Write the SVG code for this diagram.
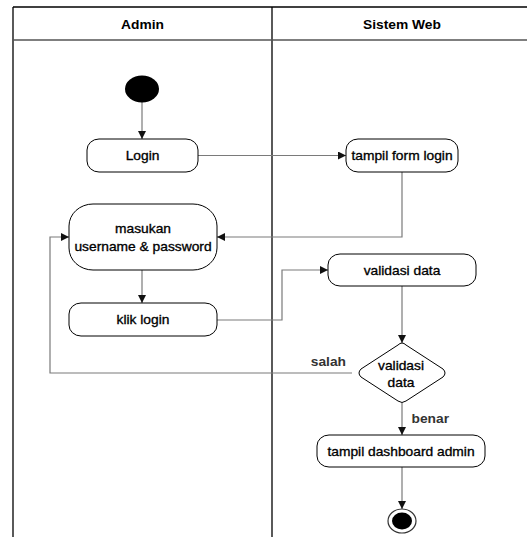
<svg xmlns="http://www.w3.org/2000/svg" width="527" height="537" viewBox="0 0 527 537">
<style>
.lane{stroke:#000;stroke-width:1.3;fill:none}
.node{fill:#fff;stroke:#000;stroke-width:1}
.conn{fill:none;stroke:#7a7a7a;stroke-width:1.2}
.t{font-family:"Liberation Sans",Arial,sans-serif;font-size:12px;fill:#000;stroke:#000;stroke-width:0.3;text-anchor:middle}
.h{font-family:"Liberation Sans",Arial,sans-serif;font-size:12px;font-weight:bold;fill:#000;text-anchor:middle}
.lbl{font-family:"Liberation Sans",Arial,sans-serif;font-size:12px;font-weight:bold;fill:#333}
</style>
<defs>
<marker id="arr" markerUnits="userSpaceOnUse" markerWidth="9" markerHeight="8" refX="8" refY="4" orient="auto">
<path d="M0,0 L8,4 L0,8 Z" fill="#111"/>
</marker>
</defs>
<rect width="527" height="537" fill="#fff"/>
<g id="lanes">
<line class="lane" x1="13" y1="7" x2="527" y2="7"/>
<line class="lane" x1="13" y1="7" x2="13" y2="537"/>
<line class="lane" x1="272" y1="7" x2="272" y2="537"/>
<line x1="13" y1="40" x2="527" y2="40" stroke="#555" stroke-width="1.3"/>
<text class="h" transform="translate(142.5 29) scale(1.15 1)">Admin</text>
<text class="h" transform="translate(402 29) scale(1.15 1)">Sistem Web</text>
</g>
<g id="connectors">
<path class="conn" d="M142,102 L142,139" marker-end="url(#arr)"/>
<path class="conn" d="M198,155.5 L346,155.5" marker-end="url(#arr)"/>
<path class="conn" d="M402,172 L402,237 L217,237" marker-end="url(#arr)"/>
<path class="conn" d="M142,270 L142,303" marker-end="url(#arr)"/>
<path class="conn" d="M217,320 L282,320 L282,270 L328,270" marker-end="url(#arr)"/>
<path class="conn" d="M402,286 L402,343" marker-end="url(#arr)"/>
<path class="conn" d="M352,373 L50,373 L50,237 L69,237" marker-end="url(#arr)"/>
<path class="conn" d="M402,403 L402,435" marker-end="url(#arr)"/>
<path class="conn" d="M402,467 L402,509" marker-end="url(#arr)"/>
<text class="lbl" text-anchor="end" transform="translate(346 366) scale(1.15 1)">salah</text>
<text class="lbl" transform="translate(411.5 423) scale(1.15 1)">benar</text>
</g>
<g id="start">
<ellipse cx="142" cy="89" rx="17" ry="13.5" fill="#000"/>
</g>
<g id="login">
<rect class="node" x="87" y="139" width="111" height="33" rx="12" ry="11"/>
<text class="t" transform="translate(142.5 159.5) scale(1.15 1)">Login</text>
</g>
<g id="tampil-form-login">
<rect class="node" x="346" y="139" width="112" height="33" rx="12" ry="11"/>
<text class="t" transform="translate(402 159.5) scale(1.15 1)">tampil form login</text>
</g>
<g id="masukan">
<rect class="node" x="69" y="204" width="148" height="66" rx="24" ry="22"/>
<text class="t" transform="translate(143 232.5) scale(1.15 1)">masukan</text>
<text class="t" transform="translate(143 250.5) scale(1.15 1)">username &amp; password</text>
</g>
<g id="klik-login">
<rect class="node" x="69" y="303" width="148" height="33" rx="12" ry="11"/>
<text class="t" transform="translate(143 324) scale(1.15 1)">klik login</text>
</g>
<g id="validasi-data">
<rect class="node" x="328" y="254" width="148" height="32" rx="12" ry="11"/>
<text class="t" transform="translate(402 275) scale(1.15 1)">validasi data</text>
</g>
<g id="decision">
<path class="node" d="M402,343 Q404,343 406,345 L443,369 Q447,373 443,377 L406,401 Q402,404 398,401 L361,377 Q357,373 361,369 L398,345 Q400,343 402,343 Z"/>
<text class="t" transform="translate(401 369.5) scale(1.15 1)">validasi</text>
<text class="t" transform="translate(401 387) scale(1.15 1)">data</text>
</g>
<g id="tampil-dashboard">
<rect class="node" x="317" y="435" width="168" height="32" rx="12" ry="11"/>
<text class="t" transform="translate(401 456) scale(1.15 1)">tampil dashboard admin</text>
</g>
<g id="end">
<ellipse cx="402" cy="521" rx="14" ry="12" fill="#fff" stroke="#333" stroke-width="1.2"/>
<ellipse cx="402" cy="521" rx="10" ry="8.5" fill="#000"/>
</g>
</svg>
